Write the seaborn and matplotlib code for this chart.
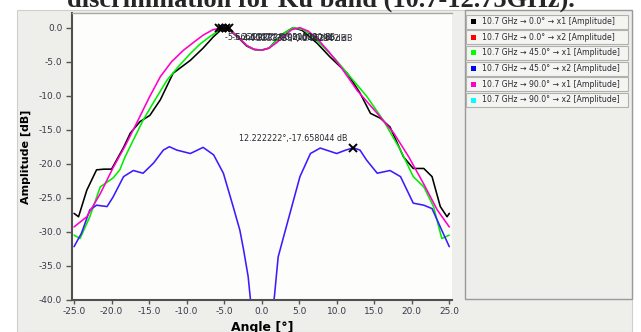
import numpy as np
import pandas as pd
import matplotlib
matplotlib.use("Agg")
import matplotlib.pyplot as plt
from matplotlib.patches import Rectangle
import seaborn as sns

# ---------------- data ----------------
title = "discrimination for Ku band (10.7-12.75GHz)."
series_labels = [
    "10.7 GHz \u2192 0.0\u00b0 \u2192 x1 [Amplitude]",
    "10.7 GHz \u2192 0.0\u00b0 \u2192 x2 [Amplitude]",
    "10.7 GHz \u2192 45.0\u00b0 \u2192 x1 [Amplitude]",
    "10.7 GHz \u2192 45.0\u00b0 \u2192 x2 [Amplitude]",
    "10.7 GHz \u2192 90.0\u00b0 \u2192 x1 [Amplitude]",
    "10.7 GHz \u2192 90.0\u00b0 \u2192 x2 [Amplitude]",
]
series_colors = ["#000000", "#ff0000", "#00ee00", "#3a1cff", "#ff00cc", "#00ffff"]
legend_colors = ["#000000", "#ff0000", "#00ff00", "#0000ff", "#ff00cc", "#00ffff"]

black_x = [-25, -24.4, -23.3, -22, -21, -20, -19.1, -18.4, -17.5, -16.2, -14.9, -13.5,
           -11.8, -9.5, -7.8, -6.4, -5.1, -4, -3, -2, -1, 0, 1, 2, 3, 4.2, 5.4, 7.4,
           9.1, 11.4, 13.1, 14.5, 15.8, 17.1, 18.9, 20.2, 21.6, 22.7, 23.8, 24.7, 25]
black_y = [-27.3, -27.8, -23.9, -20.9, -20.8, -20.8, -19.0, -17.6, -15.5, -13.8, -12.9,
           -10.6, -6.7, -4.8, -3.0, -1.3, 0.0, -0.6, -1.6, -2.7, -3.2, -3.3, -3.0, -1.8,
           -0.8, 0.0, -0.4, -2.3, -4.3, -6.7, -9.6, -12.6, -13.3, -14.6, -19.0, -20.7,
           -20.7, -21.9, -26.3, -27.8, -27.3]

red_x = []
red_y = []

green_x = [-25, -24.2, -22.9, -21.5, -19.8, -18.9, -18.2, -17, -15.8, -14.2, -12.6, -11,
           -9.5, -8.2, -6.9, -5.1, -4, -3, -2, -1, 0, 1, 2, 3, 4.2, 5.6, 6.8, 8.2, 9.8,
           11.4, 14.0, 16.2, 18.5, 20.2, 21.6, 22.9, 24, 25]
green_y = [-30.5, -31.0, -27.8, -23.4, -22.1, -20.9, -19.0, -16.3, -13.6, -10.6, -7.7,
           -5.6, -3.8, -2.4, -1.3, 0.0, -0.5, -1.5, -2.6, -3.2, -3.3, -3.0, -1.8, -0.8,
           0.0, -0.3, -1.3, -2.8, -4.6, -6.7, -10.1, -13.6, -18.0, -21.9, -23.4, -26.3,
           -31.0, -30.5]

blue_x = [-25, -24, -22.9, -22, -20.6, -19.8, -18.4, -17.1, -15.8, -14.4, -13.1, -12.3,
          -11.3, -9.5, -7.8, -6.4, -5.1, -3.8, -2.9, -2.4, -1.8, -1.4, -0.7, 0, 0.7, 1.4,
          1.7, 2.2, 3.4, 5.1, 6.5, 7.8, 10, 11.2, 12.222222, 13.1, 14, 15.4, 17.1, 18.5,
          20.2, 21.6, 22.7, 23.8, 25]
blue_y = [-32.2, -30.2, -26.8, -26.1, -26.3, -24.9, -21.9, -21.0, -21.4, -19.9, -18.0,
          -17.5, -18.0, -18.5, -17.6, -18.7, -21.4, -26.3, -29.8, -32.7, -36.6, -41.0,
          -48.0, -55.0, -48.0, -42.0, -39.5, -33.7, -28.8, -21.9, -18.5, -17.7, -18.5,
          -18.0, -17.658044, -18.0, -19.5, -21.4, -21.0, -21.9, -25.8, -26.1, -26.6,
          -29.3, -32.2]

magenta_x = [-25, -23.3, -21.5, -19.8, -18.2, -16.6, -15, -13.5, -12, -10.4, -9, -7.8,
             -6.5, -5.3, -4, -3, -2, -1, 0, 1, 2, 3, 4, 5.1, 6.2, 7.4, 9, 10.5, 12.7,
             15.4, 17.6, 19.6, 21.6, 23.4, 25]
magenta_y = [-29.3, -27.8, -24.4, -20.6, -17.4, -13.9, -10.3, -7.2, -5.0, -3.3, -2.1,
             -1.1, -0.3, 0.0, -0.5, -1.5, -2.6, -3.2, -3.3, -3.0, -2.2, -1.2, -0.3, 0.0,
             -0.5, -1.6, -3.6, -5.7, -9.2, -12.6, -15.5, -19.0, -23.0, -26.8, -29.3]

cyan_x = []
cyan_y = []

peak_marker_x = [-5.6666667, -5.2222222, -4.7777778, -4.3333333]
peak_marker_y = [-0.021532, 0.0, -0.046294, -0.062102]
side_marker_x = [12.222222]
side_marker_y = [-17.658044]

x_ticks = [-25, -20, -15, -10, -5, 0, 5, 10, 15, 20, 25]
y_ticks = [-40, -35, -30, -25, -20, -15, -10, -5, 0]

# ---------------- build table ----------------
xs = [black_x, red_x, green_x, blue_x, magenta_x, cyan_x]
ys = [black_y, red_y, green_y, blue_y, magenta_y, cyan_y]
rows = []
for lab, xx, yy in zip(series_labels, xs, ys):
    for a, v in zip(xx, yy):
        rows.append((lab, a, v))
df = pd.DataFrame(rows, columns=["series", "angle", "amplitude"])

# ---------------- figure ----------------
sns.set_theme(style="white")
plt.rcParams["font.family"] = ["DejaVu Sans"]

W, H = 641, 332
fig = plt.figure(figsize=(W / 100, H / 100), dpi=100)
fig.patch.set_facecolor("white")

# grey panel (behind everything)
fig.patches.append(Rectangle((17 / W, 0), (632 - 17) / W, (H - 10) / H,
                             transform=fig.transFigure, fc="#eeeeeb", ec="#cfcfcf",
                             lw=0.8, zorder=-5))

ax = fig.add_axes([72 / W, 1 - 300 / H, 380 / W, 287 / H])
ax.set_zorder(5)
ax.set_facecolor("#fdfdfb")

palette = dict(zip(series_labels, series_colors))
present = [l for l, xx in zip(series_labels, xs) if len(xx) > 0]
sns.lineplot(data=df, x="angle", y="amplitude", hue="series", hue_order=present,
             palette=palette, estimator=None, sort=False, legend=False,
             linewidth=1.15, ax=ax)

ax.set_xlim(-25.27, 25.36)
ax.set_ylim(-40.04, 2.16)
ax.set_xticks(x_ticks)
ax.set_yticks(y_ticks)
ax.set_xticklabels([f"{t:.1f}" for t in x_ticks])
ax.set_yticklabels([f"{t:.1f}" for t in y_ticks])
ax.tick_params(axis="both", which="both", direction="out", colors="#555555",
               labelcolor="#3a3a4a", labelsize=6.5, width=1)
ax.tick_params(axis="y", length=4.5, pad=2.5)
ax.tick_params(axis="x", length=3, pad=2)
ax.tick_params(bottom=True, left=True)

for s in ["left", "bottom"]:
    ax.spines[s].set_color("#505050")
    ax.spines[s].set_linewidth(1.5)
ax.spines["top"].set_color("#a8a8a8")
ax.spines["top"].set_linewidth(1.0)
ax.spines["right"].set_visible(False)

ax.set_xlabel("Angle [\u00b0]", fontsize=9, fontweight="bold", color="black")
ax.set_ylabel("Amplitude [dB]", fontsize=8, fontweight="bold", color="black")
ax.xaxis.set_label_coords(0.5, -(327 - 300) / 287)
ax.xaxis.label.set_va("center")
ax.yaxis.set_label_coords((26 - 72) / 380, 0.5)
ax.yaxis.label.set_va("center")

# markers + annotations
for i, (a, v) in enumerate(zip(peak_marker_x, peak_marker_y)):
    ax.plot([a], [v], marker="x", ms=6, mew=1.4, color="black", zorder=5, clip_on=False)
    ax.annotate(f"{a:.8g}\u00b0,{v:.6f} dB", xy=(a, v),
                xytext=((6 + 4 * i) * 0.72, -10 * 0.72), textcoords="offset points",
                fontsize=5.8, color="#2a2a36", ha="left", va="center", zorder=6)
for a, v in zip(side_marker_x, side_marker_y):
    ax.plot([a], [v], marker="x", ms=6, mew=1.4, color="black", zorder=5)
    ax.annotate(f"{a:.8g}\u00b0,{v:.6f} dB", xy=(a, v),
                xytext=(-6 * 0.72, 9.5 * 0.72), textcoords="offset points",
                fontsize=5.8, color="#2a2a36", ha="right", va="center", zorder=6)

# title (cut at top like the reference)
fig.text(0.5, 1 - 7 / H, title, ha="center", va="baseline", fontsize=19,
         fontweight="bold", family=["Liberation Serif", "DejaVu Serif"])

# legend panel
fig.patches.append(Rectangle((465 / W, 1 - 299 / H), (632 - 465) / W, (299 - 10) / H,
                             transform=fig.transFigure, fc="#eeeeeb", ec="#9a9a9a",
                             lw=1.0, zorder=1))
for i, (lab, col) in enumerate(zip(series_labels, legend_colors)):
    yc = 21.5 + 15.7 * i
    fig.patches.append(Rectangle((466 / W, 1 - (yc + 7) / H), (628 - 466) / W, 14 / H,
                                 transform=fig.transFigure, fc="#f4f4f1", ec="#b0b0b0",
                                 lw=0.8, zorder=2))
    fig.patches.append(Rectangle((471 / W, 1 - (yc + 2.5) / H), 5 / W, 5 / H,
                                 transform=fig.transFigure, fc=col, ec="none", zorder=3))
    fig.text(482 / W, 1 - yc / H, lab, ha="left", va="center", fontsize=5.6,
             color="#2a2a36", zorder=4)

fig.savefig("out.png", dpi=100)
